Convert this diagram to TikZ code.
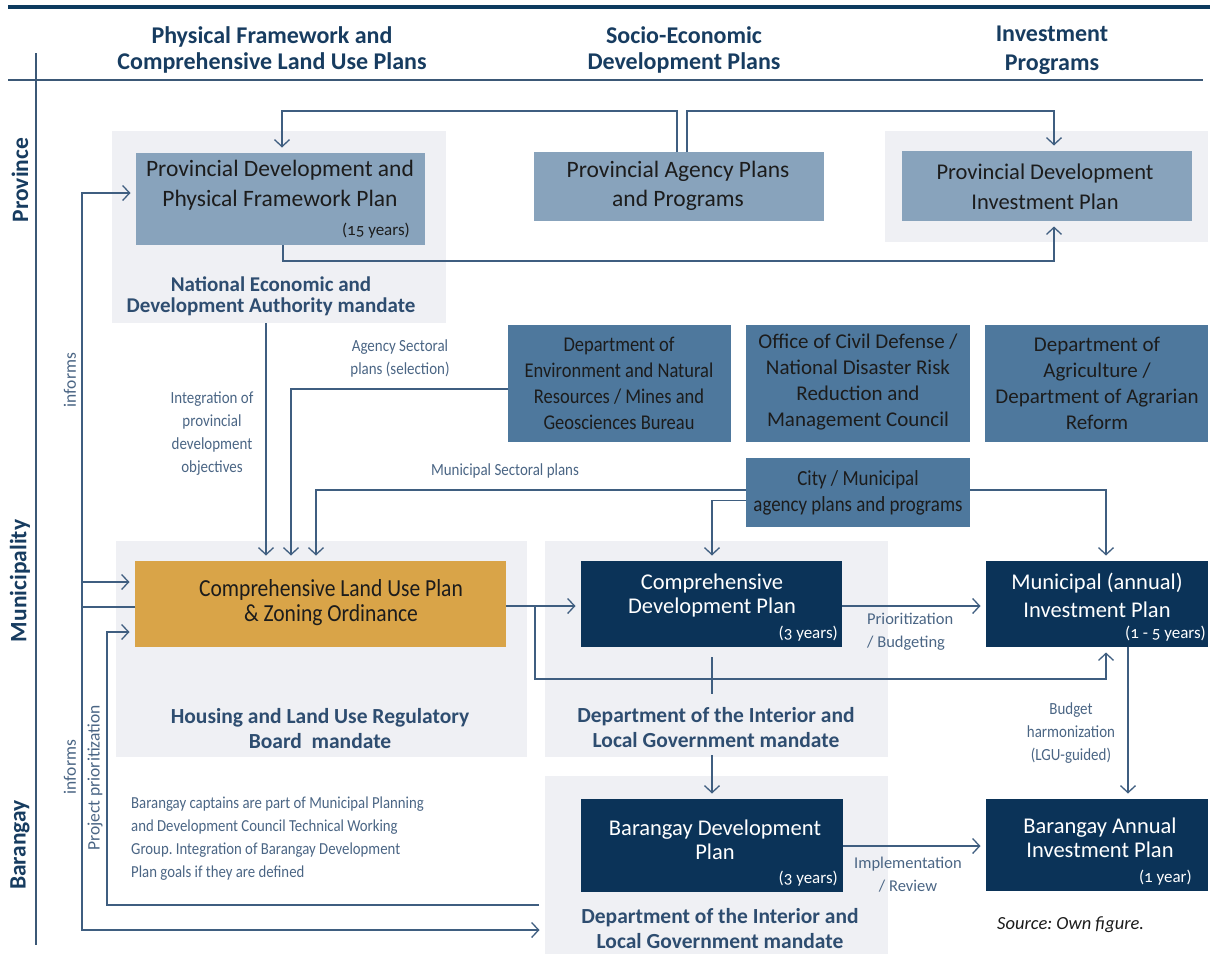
\documentclass[tikz,border=0pt]{standalone}
\usepackage{fontspec}
\setmainfont{Carlito}[Numbers=OldStyle]
\newfontfamily\condf{Carlito}[FakeStretch=0.88,Numbers=OldStyle]
\usetikzlibrary{arrows.meta,calc}
\frenchspacing
\definecolor{navy}{HTML}{0B3358}
\definecolor{topnavy}{HTML}{0D3A5E}
\definecolor{headc}{HTML}{173C60}
\definecolor{rulec}{HTML}{3B5876}
\definecolor{linec}{HTML}{3F5E80}
\definecolor{provc}{HTML}{88A3BC}
\definecolor{agencyc}{HTML}{4E789D}
\definecolor{goldc}{HTML}{D9A448}
\definecolor{bgc}{HTML}{EFF0F4}
\definecolor{mandc}{HTML}{2E4D70}
\definecolor{labc}{HTML}{4A6584}
\definecolor{boxtxt}{HTML}{1C1C1C}
\tikzset{
  bgbox/.style={fill=bgc, draw=none, inner sep=0pt, outer sep=0pt},
  provbox/.style={fill=provc, draw=none, inner sep=0pt, outer sep=0pt},
  agbox/.style={fill=agencyc, draw=none, inner sep=0pt, outer sep=0pt},
  darkbox/.style={fill=navy, draw=none, inner sep=0pt, outer sep=0pt},
  goldbox/.style={fill=goldc, draw=none, inner sep=0pt, outer sep=0pt},
  conn/.style={draw=linec, line width=1.3pt},
  arr/.style={conn, -{Straight Barb[length=7pt,width=15pt,line width=1.3pt]}, shorten >=5.5pt},
  txt/.style={inner sep=0pt, align=center},
  headtxt/.style={txt, text=headc, font=\bfseries\fontsize{24}{26}\selectfont},
  rowtxt/.style={txt, text=headc, font=\bfseries\fontsize{23.5}{26}\selectfont, rotate=90},
  mandtxt/.style={txt, text=mandc, font=\bfseries\fontsize{21.5}{25}\selectfont},
  lab/.style={txt, text=labc, font=\condf\fontsize{17}{23}\selectfont},
  labr/.style={txt, text=labc, font=\fontsize{16.5}{23}\selectfont},
  yrs/.style={inner sep=0pt, anchor=east, font=\fontsize{17}{20}\selectfont},
}
\begin{document}
\begin{tikzpicture}[x=1pt,y=-1pt]
\useasboundingbox (0,0) rectangle (1210,954);
% rules
\draw[topnavy, line width=3.5pt] (8,7) -- (1210,7);
\draw[rulec, line width=1.3pt] (8,80) -- (1203,80);
\draw[rulec, line width=1.5pt] (36,53) -- (36,945);
% headers
\node[headtxt] (h1) at (272,50) {Physical Framework and\\Comprehensive Land Use Plans};
\node[headtxt] (h2) at (684,50) {Socio-Economic\\Development Plans};
\node[headtxt, font=\bfseries\fontsize{24}{29}\selectfont] (h3) at (1052,50) {Investment\\Programs};
% row labels
\node[rowtxt] (rp) at (20,180) {Province};
\node[rowtxt] (rm) at (20,581) {Municipality};
\node[rowtxt] (rb) at (20,845) {Barangay};
% background panels
\node[bgbox, minimum width=334pt, minimum height=192pt] (provbg) at (279,227) {};
\node[bgbox, minimum width=323pt, minimum height=111pt] (pdipbg) at (1046.5,186.5) {};
\node[bgbox, minimum width=411pt, minimum height=216pt] (hlurbbg) at (321.5,649) {};
\node[bgbox, minimum width=343pt, minimum height=216pt] (dilgbg1) at (716.5,649) {};
\node[bgbox, minimum width=343pt, minimum height=178pt] (dilgbg2) at (716.5,865) {};
% province boxes
\node[provbox, minimum width=289pt, minimum height=92pt] (pdpfp) at (280.5,199) {};
\node[txt, text=boxtxt, font=\fontsize{23.5}{29.5}\selectfont] (pdpfpt) at (280,185) {Provincial Development and\\Physical Framework Plan};
\node[yrs, text=boxtxt] (pdpfpy) at (410,231) {(15 years)};
\node[provbox, minimum width=290pt, minimum height=69pt] (pap) at (679,186.5) {};
\node[txt, text=boxtxt, font=\fontsize{23.5}{29.5}\selectfont] (papt) at (678,186) {Provincial Agency Plans\\and Programs};
\node[provbox, minimum width=290pt, minimum height=70pt] (pdip) at (1047,186) {};
\node[txt, text=boxtxt, font=\fontsize{22.5}{29.5}\selectfont] (pdipt) at (1045,187) {Provincial Development\\Investment Plan};
% agency boxes
\node[agbox, minimum width=223pt, minimum height=117pt] (denr) at (619.5,383.5) {};
\node[txt, text=boxtxt, font=\condf\fontsize{21}{26}\selectfont] (denrt) at (619,383) {Department of\\Environment and Natural\\Resources / Mines and\\Geosciences Bureau};
\node[agbox, minimum width=224pt, minimum height=117pt] (ocd) at (858,383.5) {};
\node[txt, text=boxtxt, font=\fontsize{21}{26}\selectfont] (ocdt) at (858,382) {Office of Civil Defense /\\National Disaster Risk\\Reduction and\\Management Council};
\node[agbox, minimum width=223pt, minimum height=117pt] (da) at (1096.5,383.5) {};
\node[txt, text=boxtxt, font=\fontsize{21}{26}\selectfont] (dat) at (1097,383) {Department of\\Agriculture /\\Department of Agrarian\\Reform};
\node[agbox, minimum width=224pt, minimum height=69pt] (city) at (858,492.5) {};
\node[txt, text=boxtxt, font=\condf\fontsize{21.5}{26}\selectfont] (cityt) at (858,493) {City / Municipal\\agency plans and programs};
% municipality boxes
\node[goldbox, minimum width=371pt, minimum height=86pt] (clup) at (320.5,604) {};
\node[txt, text=boxtxt, font=\condf\fontsize{24.5}{25}\selectfont] (clupt) at (331,603) {Comprehensive Land Use Plan\\\& Zoning Ordinance};
\node[darkbox, minimum width=261pt, minimum height=86pt] (cdp) at (711.5,604) {};
\node[txt, text=white, font=\fontsize{22.5}{24}\selectfont] (cdpt) at (712,595) {Comprehensive\\Development Plan};
\node[yrs, text=white] (cdpy) at (838,634) {(3 years)};
\node[darkbox, minimum width=222pt, minimum height=86pt] (mip) at (1097,604) {};
\node[txt, text=white, font=\fontsize{22.5}{28}\selectfont] (mipt) at (1097,595) {Municipal (annual)\\Investment Plan};
\node[yrs, text=white] (mipy) at (1206,634) {(1 - 5 years)};
% barangay boxes
\node[darkbox, minimum width=262pt, minimum height=93pt] (bdp) at (712,845.5) {};
\node[txt, text=white, font=\fontsize{22.5}{24}\selectfont] (bdpt) at (715,840) {Barangay Development\\Plan};
\node[yrs, text=white] (bdpy) at (838,879) {(3 years)};
\node[darkbox, minimum width=222pt, minimum height=92pt] (baip) at (1097,845) {};
\node[txt, text=white, font=\fontsize{22.5}{24}\selectfont] (baipt) at (1100,838) {Barangay Annual\\Investment Plan};
\node[yrs, text=white] (baipy) at (1192,878) {(1 year)};
% mandates
\node[mandtxt, font=\bfseries\fontsize{21}{21}\selectfont] (neda) at (271,296) {National Economic and\\Development Authority mandate};
\node[mandtxt] (hlurb) at (320,729) {Housing and Land Use Regulatory\\Board\ \ mandate};
\node[mandtxt] (dilg1) at (716,728) {Department of the Interior and\\Local Government mandate};
\node[mandtxt] (dilg2) at (720,929) {Department of the Interior and\\Local Government mandate};
% connectors: province
\draw[arr] ($(pap.north)+(-2,0)$) -- ++(0,-41) -| ($(pdpfp.north)+(1.5,0)$);
\draw[arr] ($(pap.north)+(8,0)$) -- ++(0,-41) -| ($(pdip.north)+(7,0)$);
\draw[arr] ($(pdpfp.south)+(2.5,0)$) -- ++(0,16) -| ($(pdip.south)+(7,0)$);
% informs
\coordinate (ia) at (82,193);
\coordinate (ib) at (82,930);
\draw[arr] ($(clup.west)+(0,3)$) -| (ia) -- ($(pdpfp.west)+(0,-6)$);
\draw[arr] ($(clup.west)+(0,3)$) -| (ib) -- (dilgbg2.west |- ib);
\draw[arr] ($(clup.west)+(-53,-22)$) -- ($(clup.west)+(0,-22)$);
% project prioritization
\coordinate (pp) at (107,905);
\draw[arr] ($(dilgbg2.west |- pp)+(-6,0)$) -- (pp) |- ($(clup.west)+(0,28)$);
% into CLUP
\draw[arr] ($(provbg.south)+(-13,0)$) -- ($(clup.north)+(-54.5,0)$);
\draw[arr] ($(denr.west)+(0,5.5)$) -| ($(clup.north)+(-29.5,0)$);
\draw[arr] ($(city.west)+(0,-2.5)$) -| ($(clup.north)+(-4.5,0)$);
% city to CDP and MIP
\draw[arr] ($(city.west)+(0,8)$) -| ($(cdp.north)+(0.5,0)$);
\draw[arr] ($(city.east)+(0,-2.5)$) -| ($(mip.north)+(9,0)$);
% CLUP -> CDP, branch to MIP
\draw[arr] ($(clup.east)+(0,2)$) -- ($(cdp.west)+(0,2)$);
\draw[arr] ($(clup.east)+(29,2)$) -- ++(0,73) -| ($(mip.south)+(9,0)$);
\draw[arr] ($(cdp.east)+(0,2)$) -- ($(mip.west)+(0,2)$);
\draw[conn] ($(cdp.south)+(0.5,10)$) -- ++(0,37);
\draw[arr] ($(dilgbg1.south)+(-4.5,-2)$) -- ($(bdp.north)+(0,0)$);
\draw[arr] ($(mip.south)+(31,0)$) -- ($(baip.north)+(31,0)$);
\draw[arr] ($(bdp.east)+(0,0.5)$) -- ($(baip.west)+(0,1)$);
% labels
\node[lab] (l1) at (400,358) {Agency Sectoral\\plans (selection)};
\node[lab] (l2) at (212,434) {Integration of\\provincial\\development\\objectives};
\node[lab] (l3) at (505,471) {Municipal Sectoral plans};
\node[labr, align=left, anchor=north west] (l4) at (867,613) {Prioritization\\/ Budgeting};
\node[labr] (l5) at (908,875) {Implementation\\/ Review};
\node[lab] (l6) at (1071,733) {Budget\\harmonization\\(LGU-guided)};
\node[labr, font=\fontsize{17.5}{20}\selectfont, rotate=90] (l7) at (70,380) {informs};
\node[labr, font=\fontsize{17.5}{20}\selectfont, rotate=90] (l8) at (70,767) {informs};
\node[labr, font=\fontsize{17.5}{20}\selectfont, rotate=90] (l9) at (95,778) {Project prioritization};
\node[lab, align=left, anchor=north west, font=\condf\fontsize{16.8}{23}\selectfont] (l10) at (131,797) {Barangay captains are part of Municipal Planning\\and Development Council Technical Working\\Group. Integration of Barangay Development\\Plan goals if they are defined};
\node[inner sep=0pt, anchor=west, text=boxtxt, font=\itshape\fontsize{18.5}{20}\selectfont] (src) at (997,925) {Source: Own figure.};
\end{tikzpicture}
\end{document}
